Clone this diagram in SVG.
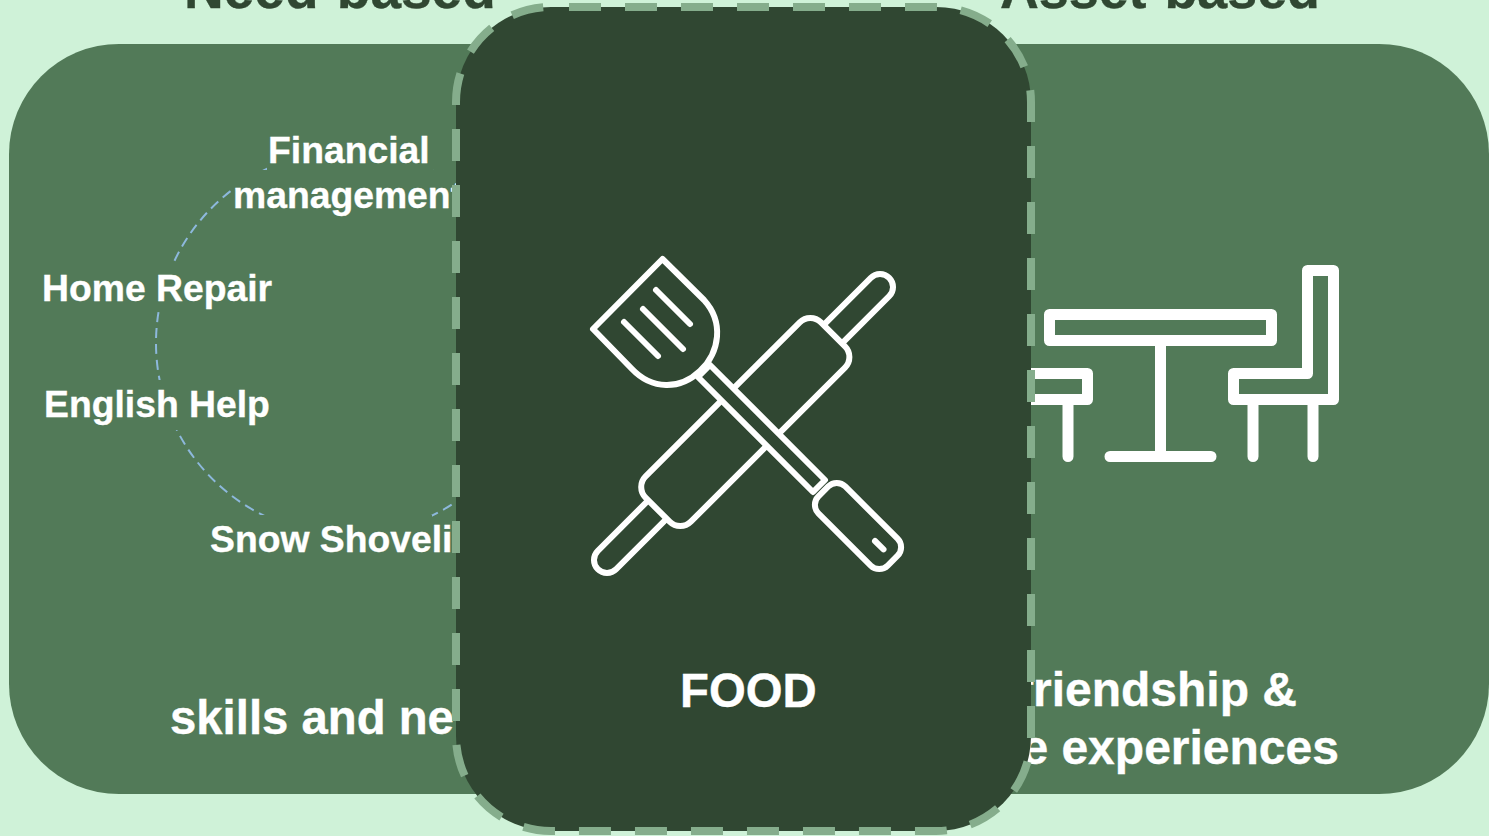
<svg xmlns="http://www.w3.org/2000/svg" width="1489" height="836" viewBox="0 0 1489 836">
<style>
text{font-family:"Liberation Sans",Arial,sans-serif;font-weight:700;fill:#fff;stroke:#fff;stroke-width:.35}
.lab{font-size:37.3px}
.big{font-size:47.3px}
.big2{font-size:48px}
.head{font-size:55px;fill:#304732;stroke:#304732}
.panel{fill:#527a58}
.ic{fill:none;stroke:#fff;stroke-linecap:round;stroke-linejoin:round}
.t{stroke-width:11}
.f{stroke-width:6}
.d{fill:#304732}
</style>
<rect id="background" width="1489" height="836" fill="#cff2d8"/>
<text class="head" x="184" y="8">Need-based</text>
<text class="head" x="1000" y="8" style="font-size:53.8px">Asset-based</text>
<g id="need-panel">
<rect class="panel" x="9" y="44" width="700" height="750" rx="110"/>
<circle cx="348" cy="343" r="192" fill="none" stroke="#8db8dc" stroke-width="2" stroke-dasharray="10 6"/>
<rect class="panel" x="267" y="128" width="162" height="42"/>
<rect class="panel" x="233" y="170" width="230" height="48"/>
<rect class="panel" x="40" y="263" width="234" height="47"/>
<rect class="panel" x="40" y="380" width="232" height="50"/>
<rect class="panel" x="208" y="515" width="224" height="48"/>
<text class="lab" x="268" y="163">Financial</text>
<text class="lab" x="233" y="208">management</text>
<text class="lab" x="42" y="301">Home Repair</text>
<text class="lab" x="44" y="417">English Help</text>
<text class="lab" x="210" y="552">Snow Shoveli</text>
<text class="big" x="170" y="734">skills and ne</text>
</g>
<g id="asset-panel">
<rect class="panel" x="800" y="44" width="689" height="750" rx="110"/>
<path class="ic t" d="M1049.5 314.5H1271.5V340.5H1049.5ZM1160.5 346V456.5M1110 456.5H1211M1020 373.5H1087.5V399.5H1020M1068 405V456.5M1307.5 270.5H1333.5V399.5H1233.5V373.5H1307.5ZM1253 405V456.5M1313 405V456.5"/>
<text class="big2" x="1017" y="706">friendship &amp;</text>
<text class="big2" x="1021.4" y="764">e experiences</text>
</g>
<g id="food-node">
<rect x="456" y="7" width="575" height="824" rx="95" fill="#304732" stroke="#85ad8c" stroke-width="8" stroke-dasharray="32 24" stroke-dashoffset="-18"/>
<g id="food-icon" class="ic f">
<path d="M823 325.6L870.8 277.8A13 13 0 0 1 889.2 296.2L841 344.4M647 501.6L597.8 550.8A13 13 0 0 0 616.2 569.2L665 520.4"/>
<rect class="d" x="-124" y="-32" width="248" height="64" rx="15" transform="translate(745.3 422) rotate(-45)"/>
<path class="d" d="M710 365L825 480L813 492L698 377Z"/>
<rect class="d" x="-49" y="-19" width="98" height="38" rx="12" transform="translate(858 526) rotate(45)"/>
<path d="M875 541L883.5 549.3"/>
<path class="d" d="M662.5 259L704 300C724 322 720 352 700 371C680 390 652 390 632 369L593 329Z"/>
<path d="M656 290L690 324M643 309L683 349M624 322L658 356"/>
</g>
<text class="big" x="680" y="706.5">FOOD</text>
</g>
<g id="connectors"/>
</svg>
